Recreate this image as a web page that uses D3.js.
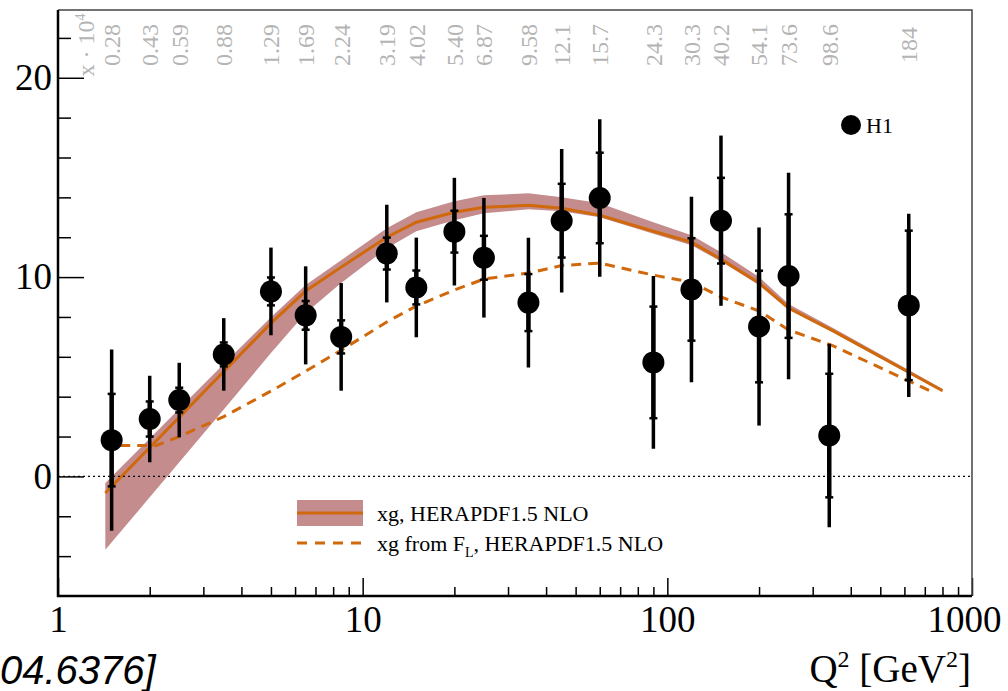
<!DOCTYPE html>
<html>
<head>
<meta charset="utf-8">
<script src="https://cdn.jsdelivr.net/npm/d3@7"></script>
<style>
  html, body { margin: 0; padding: 0; background: #fff; }
  svg { display: block; }
</style>
</head>
<body>
<svg id="chart" width="1008" height="691"></svg>
<script>
// H1 gluon density xg extracted from F_L, versus Q^2
const q2       = [1.5, 2, 2.5, 3.5, 5, 6.5, 8.5, 12, 15, 20, 25, 35, 45, 60, 90, 120, 150, 200, 250, 340, 620];
const xgH1     = [1.82, 2.88, 3.83, 6.12, 9.28, 8.08, 7.0, 11.18, 9.48, 12.28, 10.97, 8.72, 12.83, 13.97, 5.72, 9.38, 12.83, 7.52, 10.05, 2.05, 8.58];
const statErr  = [2.32, 0.88, 0.62, 0.6, 0.7, 0.72, 0.83, 0.8, 0.85, 1.05, 1.1, 1.43, 1.85, 2.27, 2.8, 2.57, 2.15, 2.8, 3.1, 3.1, 3.75];
const totalErr = [4.55, 2.17, 1.87, 1.82, 2.2, 2.46, 2.7, 2.45, 2.5, 2.7, 3.0, 3.25, 3.6, 3.95, 4.33, 4.65, 4.27, 4.97, 5.18, 4.6, 4.6];
const xLabels  = ["0.28","0.43","0.59","0.88","1.29","1.69","2.24","3.19","4.02","5.40","6.87","9.58","12.1","15.7","24.3","30.3","40.2","54.1","73.6","98.6","184"];

// HERAPDF1.5 NLO xg with its uncertainty band
const pdfQ2    = [1.43, 2, 2.5, 3.5, 5, 6.5, 8.5, 12, 15, 20, 25, 35, 45, 60, 90, 120, 150, 200, 250, 350, 800];
const xgPdf    = [-0.83, 1.45, 2.97, 5.26, 7.69, 9.3, 10.5, 12.0, 12.75, 13.25, 13.5, 13.6, 13.45, 13.1, 12.3, 11.75, 10.9, 9.7, 8.45, 7.3, 4.3];
const xgPdfHi  = [-0.33, 1.9, 3.39, 5.64, 7.99, 9.6, 10.85, 12.45, 13.25, 13.8, 14.1, 14.2, 14.0, 13.7, 12.75, 12.1, 11.25, 10.0, 8.65, 7.45, 4.4];
const xgPdfLo  = [-3.68, -1.05, 0.71, 3.36, 6.19, 8.2, 9.7, 11.45, 12.3, 12.85, 13.2, 13.4, 13.3, 13.0, 12.18, 11.6, 10.78, 9.6, 8.37, 7.22, 4.25];

// xg obtained from F_L with HERAPDF1.5 NLO
const flQ2     = [1.6, 2.1, 2.5, 3.5, 5, 6.5, 8.5, 12, 15, 20, 25, 35, 45, 60, 90, 120, 150, 200, 250, 350, 750];
const xgFromFL = [1.55, 1.55, 2.0, 3.0, 4.28, 5.28, 6.33, 7.75, 8.55, 9.35, 9.9, 10.2, 10.58, 10.7, 10.1, 9.75, 9.0, 8.3, 7.35, 6.55, 4.2];

const yMajor = [0, 10, 20];
const yMinor = [-4, -2, 2, 4, 6, 8, 12, 14, 16, 18, 22];
const xMajor = [1, 10, 100, 1000];
const xMinor = [2,3,4,5,6,7,8,9,20,30,40,50,60,70,80,90,200,300,400,500,600,700,800,900];

const serif = "'Liberation Serif', 'DejaVu Serif', serif";
const orange = "#d0680c";
const bandFill = "#c48c8c";

const L = 58, R = 972, T = 10, B = 596;
const svg = d3.select("#chart");
const x = d3.scaleLog().domain([1, 1000]).range([L, R]);
const y = d3.scaleLinear().domain([-6, 23.4]).range([B, T]);

// uncertainty band
const bandData = pdfQ2.map((q, i) => ({q, lo: xgPdfLo[i], hi: xgPdfHi[i]}));
svg.append("path")
  .datum(bandData)
  .attr("fill", bandFill)
  .attr("d", d3.area().x(d => x(d.q)).y0(d => y(d.lo)).y1(d => y(d.hi)));

// central xg curve
svg.append("path")
  .datum(pdfQ2.map((q, i) => ({q, v: xgPdf[i]})))
  .attr("fill", "none").attr("stroke", orange).attr("stroke-width", 3)
  .attr("d", d3.line().x(d => x(d.q)).y(d => y(d.v)));

// xg from F_L dashed curve
svg.append("path")
  .datum(flQ2.map((q, i) => ({q, v: xgFromFL[i]})))
  .attr("fill", "none").attr("stroke", orange).attr("stroke-width", 3)
  .attr("stroke-dasharray", "10,7")
  .attr("d", d3.line().x(d => x(d.q)).y(d => y(d.v)));

// zero line
svg.append("line")
  .attr("x1", L).attr("x2", R).attr("y1", y(0)).attr("y2", y(0))
  .attr("stroke", "#000").attr("stroke-width", 1.3).attr("stroke-dasharray", "2,3");

// top x labels (x · 10^4 for each point)
const topG = svg.append("g").attr("fill", "#b4b4b4")
  .attr("font-family", serif).attr("font-size", 24);
topG.append("text")
  .attr("transform", `translate(${L + 28},45) rotate(-90)`)
  .attr("text-anchor", "middle").attr("dy", "0.35em")
  .html('x · 10<tspan font-size="14" dy="-9">4</tspan>');
topG.selectAll("text.xl").data(q2).enter().append("text")
  .attr("class", "xl")
  .attr("transform", d => `translate(${x(d)},45) rotate(-90)`)
  .attr("text-anchor", "middle").attr("dy", "0.35em")
  .text((d, i) => xLabels[i]);

// data points with error bars
const pts = q2.map((q, i) => ({q, v: xgH1[i], s: statErr[i], t: totalErr[i]}));
const pg = svg.append("g");
pg.selectAll("line.tot").data(pts).enter().append("line")
  .attr("x1", d => x(d.q)).attr("x2", d => x(d.q))
  .attr("y1", d => y(d.v + d.t)).attr("y2", d => y(d.v - d.t))
  .attr("stroke", "#000").attr("stroke-width", 3.5);
pg.selectAll("line.stat").data(pts).enter().append("line")
  .attr("x1", d => x(d.q)).attr("x2", d => x(d.q))
  .attr("y1", d => y(d.v + d.s)).attr("y2", d => y(d.v - d.s))
  .attr("stroke", "#000").attr("stroke-width", 4.5);
[1, -1].forEach(sg => {
  pg.selectAll(null).data(pts).enter().append("line")
    .attr("x1", d => x(d.q) - 4).attr("x2", d => x(d.q) + 4)
    .attr("y1", d => y(d.v + sg * d.s)).attr("y2", d => y(d.v + sg * d.s))
    .attr("stroke", "#000").attr("stroke-width", 2.5);
});
pg.selectAll("circle").data(pts).enter().append("circle")
  .attr("cx", d => x(d.q)).attr("cy", d => y(d.v)).attr("r", 11).attr("fill", "#000");

// axes
const axisFont = g => g.attr("font-family", serif).attr("font-size", 37)
  .call(s => s.select(".domain").remove())
  .call(s => s.selectAll("text").attr("fill", "#000"))
  .call(s => s.selectAll("line").attr("stroke", "#000").attr("stroke-width", 1.5));

svg.append("g").attr("transform", `translate(${L},0)`)
  .call(d3.axisLeft(y).tickValues(yMajor).tickSize(-26).tickPadding(6).tickFormat(d3.format("d")))
  .call(axisFont);
svg.append("g").attr("transform", `translate(${L},0)`)
  .call(d3.axisLeft(y).tickValues(yMinor).tickSize(-13).tickFormat(""))
  .call(axisFont);
const xg = svg.append("g").attr("transform", `translate(0,${B})`)
  .call(d3.axisBottom(x).tickValues(xMajor).tickSize(-18).tickPadding(10).tickFormat(d3.format("d")))
  .call(axisFont);
xg.selectAll(".tick text").filter(d => d === 1000).attr("dx", -8);
svg.append("g").attr("transform", `translate(0,${B})`)
  .call(d3.axisBottom(x).tickValues(xMinor).tickSize(-9).tickFormat(""))
  .call(axisFont);

// frame
svg.append("path")
  .attr("d", `M${L},${T}H${R}V${B}`)
  .attr("fill", "none").attr("stroke", "#444").attr("stroke-width", 1.5);
svg.append("path")
  .attr("d", `M${L},${T}V${B}H${R}`)
  .attr("fill", "none").attr("stroke", "#000").attr("stroke-width", 2.5);

// axis title
svg.append("text")
  .attr("x", 971).attr("y", 682).attr("text-anchor", "end")
  .attr("font-family", serif).attr("font-size", 39).attr("fill", "#000")
  .html('Q<tspan font-size="24" dy="-15">2</tspan><tspan dy="15"> [GeV</tspan><tspan font-size="24" dy="-15">2</tspan><tspan dy="15">]</tspan>');

// reference tag
svg.append("text")
  .attr("x", 0).attr("y", 684).attr("text-anchor", "start")
  .attr("font-family", "'Liberation Sans', Arial, sans-serif").attr("font-style", "italic")
  .attr("font-size", 40).attr("fill", "#000")
  .text("04.6376]");

// H1 legend
svg.append("circle").attr("cx", 851).attr("cy", 125).attr("r", 10).attr("fill", "#000");
svg.append("text").attr("x", 866).attr("y", 125).attr("dy", "0.35em")
  .attr("font-family", serif).attr("font-size", 22).attr("fill", "#000").text("H1");

// curve legend
const lg = svg.append("g");
lg.append("rect").attr("x", 297).attr("y", 500).attr("width", 66).attr("height", 26).attr("fill", bandFill);
lg.append("line").attr("x1", 297).attr("x2", 363).attr("y1", 513).attr("y2", 513)
  .attr("stroke", orange).attr("stroke-width", 3);
lg.append("line").attr("x1", 297).attr("x2", 363).attr("y1", 543).attr("y2", 543)
  .attr("stroke", orange).attr("stroke-width", 3).attr("stroke-dasharray", "10,8");
lg.append("text").attr("x", 377).attr("y", 513).attr("dy", "0.35em")
  .attr("font-family", serif).attr("font-size", 22).attr("fill", "#000")
  .text("xg, HERAPDF1.5 NLO");
lg.append("text").attr("x", 377).attr("y", 543).attr("dy", "0.35em")
  .attr("font-family", serif).attr("font-size", 22).attr("fill", "#000")
  .html('xg from F<tspan font-size="14" dy="6">L</tspan><tspan dy="-6">, HERAPDF1.5 NLO</tspan>');
</script>
</body>
</html>
